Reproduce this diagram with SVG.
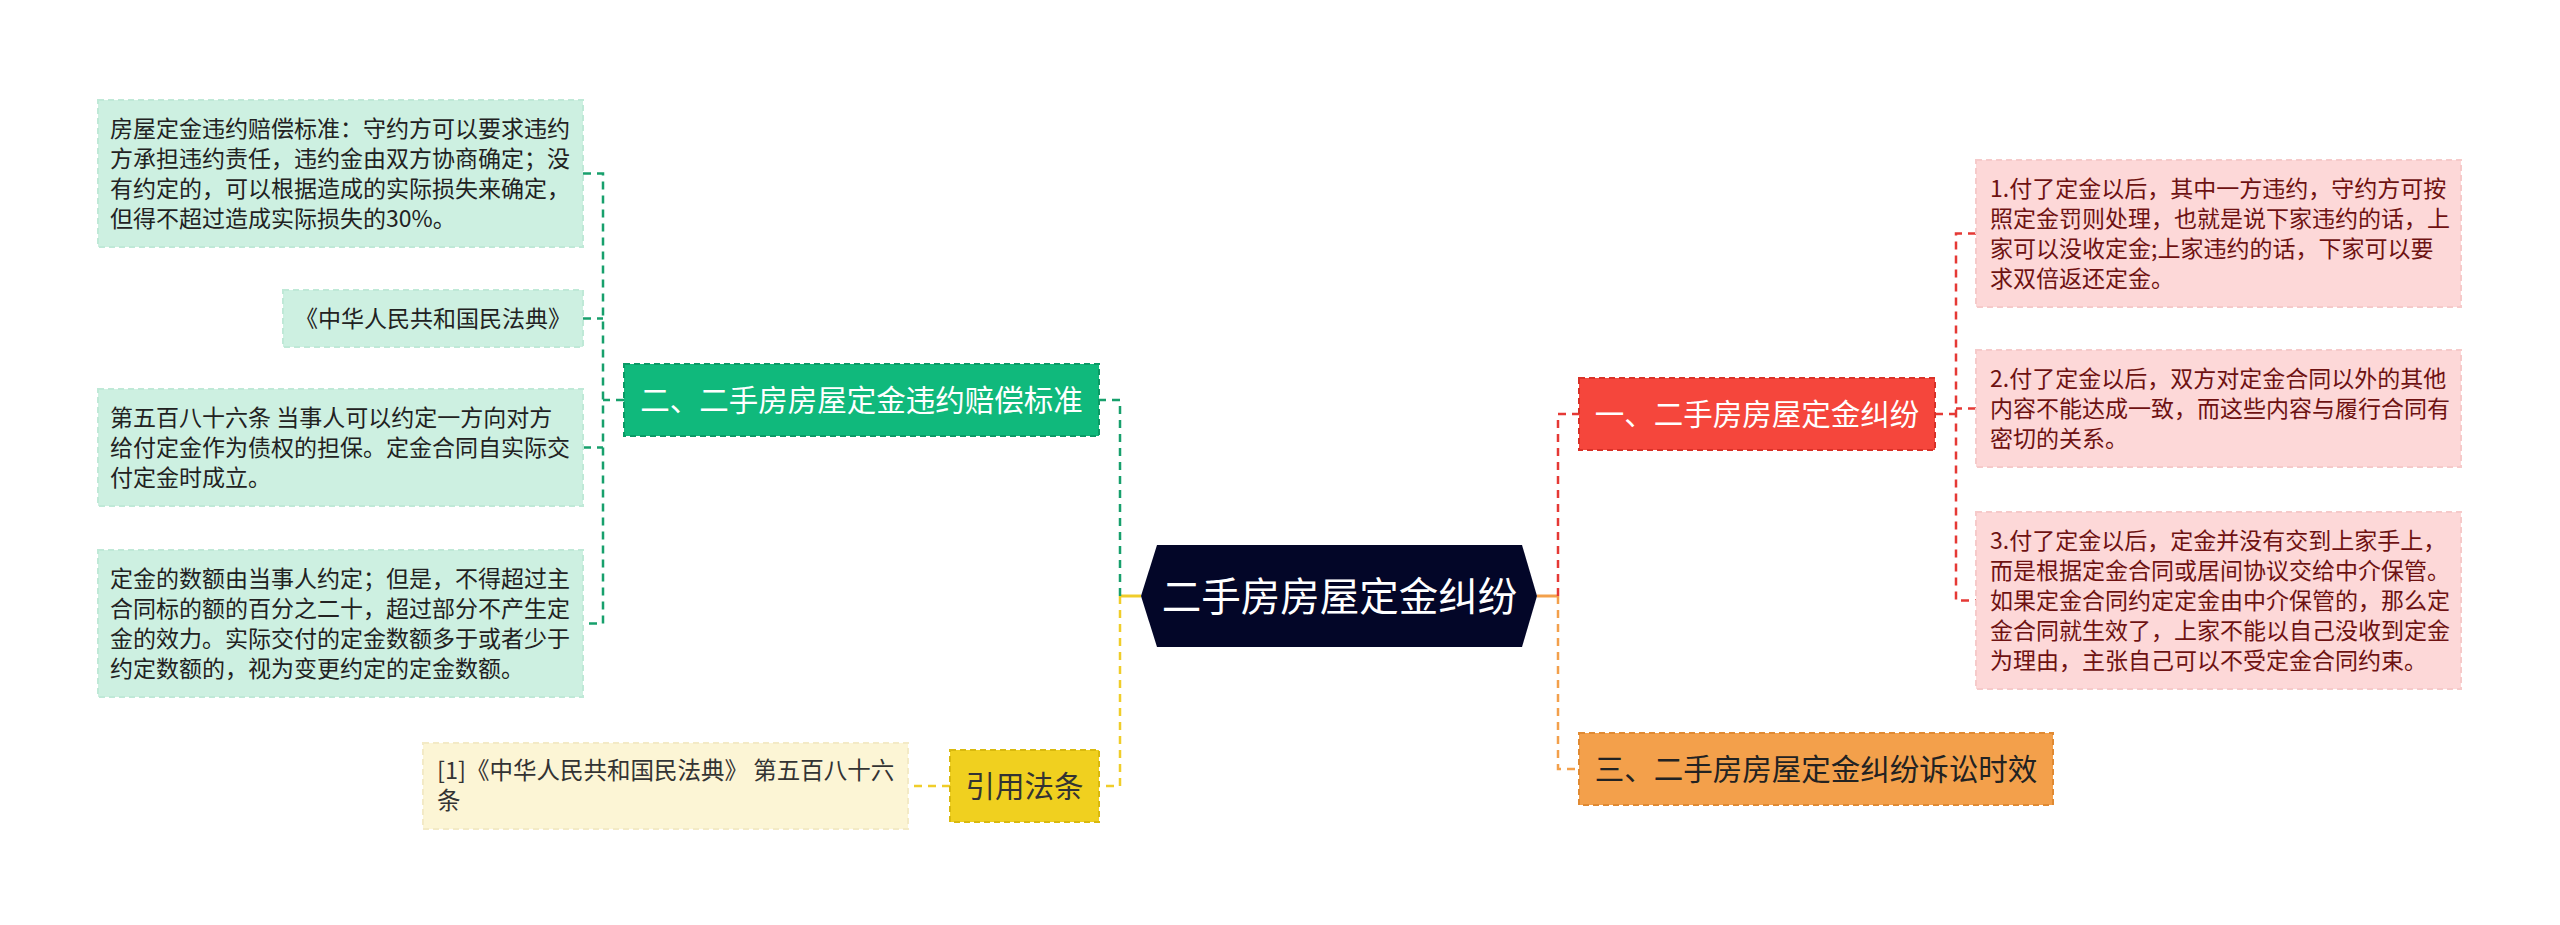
<svg xmlns="http://www.w3.org/2000/svg" width="2560" height="925" viewBox="0 0 2560 925">
<style>
text{font-family:"Noto Sans CJK SC","Noto Sans",sans-serif}
.leafg{fill:#cdf0e1;stroke:#bfe9d7;stroke-width:2;stroke-dasharray:6 4}
.leafp{fill:#fdd8d8;stroke:#f6caca;stroke-width:2;stroke-dasharray:6 4}
.leafy{fill:#fcf5d5;stroke:#f3eac6;stroke-width:2;stroke-dasharray:6 4}
.tg{font-size:23px;fill:#222}
.tp{font-size:23px;fill:#6e1212}
.ty{font-size:23.5px;fill:#333}
.main{font-size:29.5px;text-anchor:middle}
.c{fill:none;stroke-width:2.5;stroke-dasharray:8 6}
</style>
<rect width="2560" height="925" fill="#ffffff"/>
<g id="connectors">
<path d="M1141 596H1120" stroke="#f0cd2a" stroke-width="3" fill="none"/>
<path d="M1537 596H1558" stroke="#f3a04b" stroke-width="3" fill="none"/>
<path class="c" stroke="#17a06c" d="M1120 596V400H1099"/>
<path class="c" stroke="#f0cd2a" d="M1120 596V786H1099"/>
<path class="c" stroke="#e53935" d="M1558 596V414H1579"/>
<path class="c" stroke="#f3a04b" d="M1558 596V769H1579"/>
<path class="c" stroke="#17a06c" d="M624 400H603M583 173.5H603V623.5H583M583 318.5H603M583 447.5H603"/>
<path class="c" stroke="#e53935" d="M1935 414H1956M1976 233.5H1956V600.5H1976M1976 408.5H1956"/>
<path class="c" stroke="#f0cd2a" d="M950 786H908"/>
</g>
<g id="center">
<polygon points="1141,596 1157,545 1522,545 1537,596 1522,647 1157,647" fill="#030628"/>
<text x="1339.5" y="611" font-size="39.5" fill="#fff" text-anchor="middle">二手房房屋定金纠纷</text>
</g>
<g id="n2">
<rect x="624" y="364" width="475" height="72" fill="#10b97c" stroke="#0b9a66" stroke-width="2" stroke-dasharray="6 4"/>
<text class="main" x="861.5" y="411" fill="#fff">二、二手房房屋定金违约赔偿标准</text>
</g>
<g id="l1">
<rect class="leafg" x="98" y="100" width="485" height="147"/>
<text class="tg" x="110"><tspan x="110" y="137">房屋定金违约赔偿标准：守约方可以要求违约</tspan><tspan x="110" y="167">方承担违约责任，违约金由双方协商确定；没</tspan><tspan x="110" y="197">有约定的，可以根据造成的实际损失来确定，</tspan><tspan x="110" y="227">但得不超过造成实际损失的30%。</tspan></text>
</g>
<g id="l2">
<rect class="leafg" x="283" y="290" width="300" height="57"/>
<text class="tg" x="295" y="327">《中华人民共和国民法典》</text>
</g>
<g id="l3">
<rect class="leafg" x="98" y="389" width="485" height="117"/>
<text class="tg"><tspan x="110" y="426">第五百八十六条 当事人可以约定一方向对方</tspan><tspan x="110" y="456">给付定金作为债权的担保。定金合同自实际交</tspan><tspan x="110" y="486">付定金时成立。</tspan></text>
</g>
<g id="l4">
<rect class="leafg" x="98" y="550" width="485" height="147"/>
<text class="tg"><tspan x="110" y="587">定金的数额由当事人约定；但是，不得超过主</tspan><tspan x="110" y="617">合同标的额的百分之二十，超过部分不产生定</tspan><tspan x="110" y="647">金的效力。实际交付的定金数额多于或者少于</tspan><tspan x="110" y="677">约定数额的，视为变更约定的定金数额。</tspan></text>
</g>
<g id="n4">
<rect x="950" y="750" width="149" height="72" fill="#f0d01f" stroke="#d9b90e" stroke-width="2" stroke-dasharray="6 4"/>
<text class="main" x="1024.5" y="797" fill="#333">引用法条</text>
</g>
<g id="ref">
<rect class="leafy" x="423" y="743" width="485" height="86"/>
<text class="ty"><tspan x="437" y="779">[1]《中华人民共和国民法典》 第五百八十六</tspan><tspan x="437" y="809">条</tspan></text>
</g>
<g id="n1">
<rect x="1579" y="378" width="356" height="72" fill="#f5463c" stroke="#d93128" stroke-width="2" stroke-dasharray="6 4"/>
<text class="main" x="1757" y="425" fill="#fff">一、二手房房屋定金纠纷</text>
</g>
<g id="n3">
<rect x="1579" y="733" width="474" height="72" fill="#f3a04b" stroke="#e08a33" stroke-width="2" stroke-dasharray="6 4"/>
<text class="main" x="1816" y="780" fill="#222">三、二手房房屋定金纠纷诉讼时效</text>
</g>
<g id="p1">
<rect class="leafp" x="1976" y="160" width="485" height="147"/>
<text class="tp"><tspan x="1990" y="197">1.付了定金以后，其中一方违约，守约方可按</tspan><tspan x="1990" y="227">照定金罚则处理，也就是说下家违约的话，上</tspan><tspan x="1990" y="257">家可以没收定金;上家违约的话，下家可以要</tspan><tspan x="1990" y="287">求双倍返还定金。</tspan></text>
</g>
<g id="p2">
<rect class="leafp" x="1976" y="350" width="485" height="117"/>
<text class="tp"><tspan x="1990" y="387">2.付了定金以后，双方对定金合同以外的其他</tspan><tspan x="1990" y="417">内容不能达成一致，而这些内容与履行合同有</tspan><tspan x="1990" y="447">密切的关系。</tspan></text>
</g>
<g id="p3">
<rect class="leafp" x="1976" y="512" width="485" height="177"/>
<text class="tp"><tspan x="1990" y="549">3.付了定金以后，定金并没有交到上家手上，</tspan><tspan x="1990" y="579">而是根据定金合同或居间协议交给中介保管。</tspan><tspan x="1990" y="609">如果定金合同约定定金由中介保管的，那么定</tspan><tspan x="1990" y="639">金合同就生效了，上家不能以自己没收到定金</tspan><tspan x="1990" y="669">为理由，主张自己可以不受定金合同约束。</tspan></text>
</g>
</svg>
